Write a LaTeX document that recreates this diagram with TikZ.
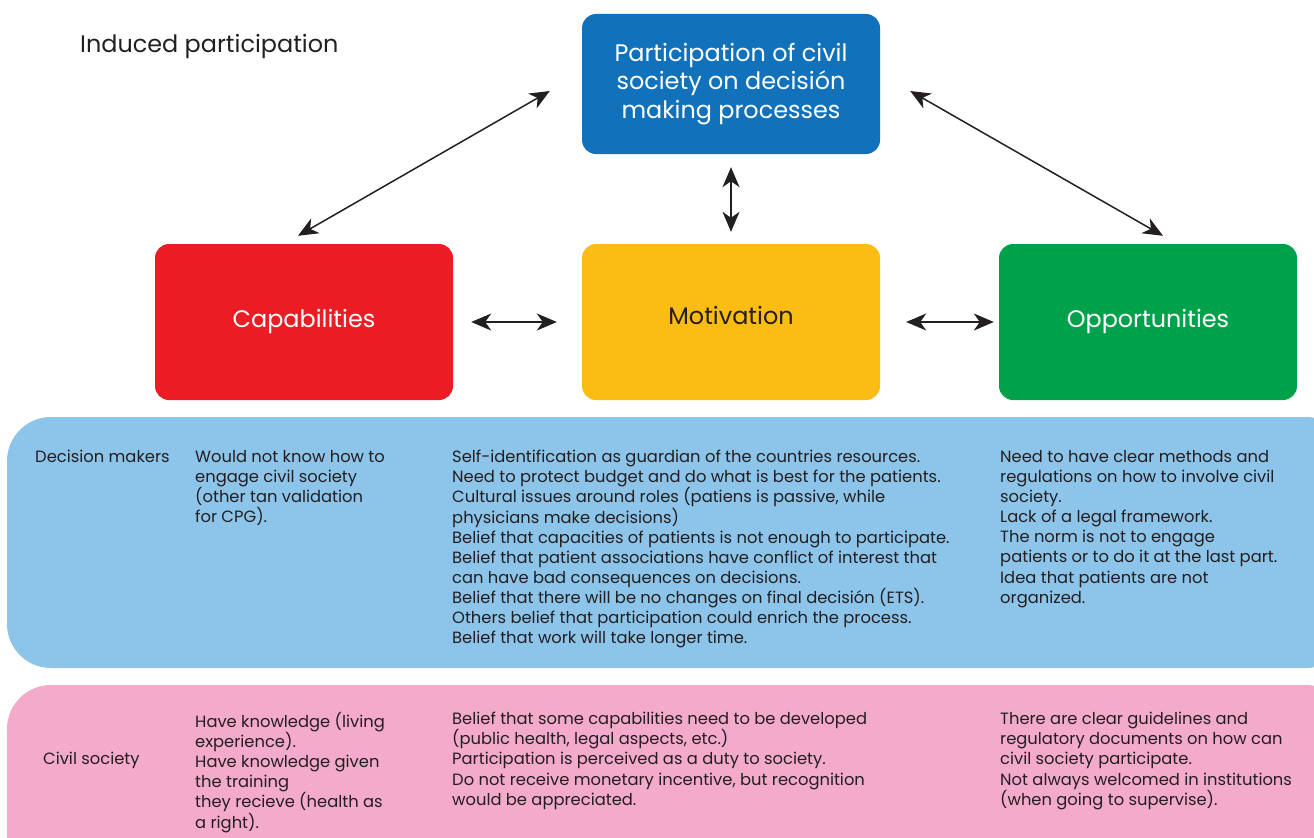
\documentclass[tikz,border=0pt]{standalone}
\usepackage{fontspec}
\setmainfont{Poppins}
\usetikzlibrary{arrows.meta,calc}
\definecolor{cblue}{RGB}{17,114,187}
\definecolor{cred}{RGB}{236,28,36}
\definecolor{cyel}{RGB}{251,188,19}
\definecolor{cgreen}{RGB}{0,161,75}
\definecolor{pblue}{RGB}{141,196,234}
\definecolor{ppink}{RGB}{244,170,202}
\definecolor{ink}{RGB}{35,31,32}
\tikzset{
  topbox/.style={rounded corners=14bp, minimum width=298bp, inner sep=0pt, align=center, font=\fontsize{24}{29}\selectfont},
  txt/.style={inner sep=0pt, align=left, text=ink, font=\fontsize{16.4}{20.2}\selectfont, anchor=north west},
  dbl/.style={{Stealth[length=20bp,width=17bp,inset=6bp]}-{Stealth[length=20bp,width=17bp,inset=6bp]}, line width=1.8bp, draw=ink},
  panel/.style={rounded corners=44bp}
}
\begin{document}
\begin{tikzpicture}[x=1bp,y=-1bp]
\useasboundingbox (0,0) rectangle (1314,837);
\clip (0,0) rectangle (1314,837);
% panels
\fill[pblue, panel] (7,417) rectangle (1350,668);
\fill[ppink, panel] (7,685) rectangle (1350,900);
% title
\node[anchor=west, inner sep=0pt, text=ink, font=\fontsize{24}{28}\selectfont] (title) at (80,47) {Induced participation};
% top boxes
\node[topbox, fill=cblue, text=white, minimum height=140bp] (part) at (731,84) {Participation of civil\\society on decisión\\making processes};
\node[topbox, fill=cred, text=white, minimum height=156bp] (cap) at (304,322) {Capabilities};
\node[topbox, fill=cyel, text=ink, minimum height=156bp, text depth=14bp] (mot) at (731,322) {Motivation};
\node[topbox, fill=cgreen, text=white, minimum height=156bp] (opp) at (1148,322) {Opportunities};
% connectors
\coordinate (d1a) at ($(part.west)+(-32,7)$);
\coordinate (d1b) at ($(cap.north)+(-6,-8)$);
\coordinate (d2a) at ($(part.east)+(30,7)$);
\coordinate (d2b) at ($(opp.north)+(15,-8)$);
\draw[dbl, line width=1.5bp] (d1a) -- (d1b);
\draw[dbl, line width=1.5bp] (d2a) -- (d2b);
\draw[dbl, shorten <=13bp, shorten >=12bp] (part.south) -- (mot.north);
\draw[dbl, shorten <=18bp, shorten >=25bp] (cap.east) -- (mot.west);
\draw[dbl, shorten <=26bp, shorten >=5bp] (mot.east) -- (opp.west);
% decision makers
\node[txt] (dmlab) at (35,450) {Decision makers};
\node[txt] (dmcap) at (195,450) {Would not know how to\\engage civil society\\(other tan validation\\for CPG).};
\node[txt] (dmmot) at (452,450) {Self-identification as guardian of the countries resources.\\Need to protect budget and do what is best for the patients.\\Cultural issues around roles (patiens is passive, while\\physicians make decisions)\\Belief that capacities of patients is not enough to participate.\\Belief that patient associations have conflict of interest that\\can have bad consequences on decisions.\\Belief that there will be no changes on final decisión (ETS).\\Others belief that participation could enrich the process.\\Belief that work will take longer time.};
\node[txt] (dmopp) at (1000,450) {Need to have clear methods and\\regulations on how to involve civil\\society.\\Lack of a legal framework.\\The norm is not to engage\\patients or to do it at the last part.\\Idea that patients are not\\organized.};
% civil society
\node[txt] (cslab) at (43,752) {Civil society};
\node[txt] (cscap) at (195,712) {Have knowledge (living\\experience).\\Have knowledge given\\the training\\they recieve (health as\\a right).};
\node[txt] (csmot) at (452,712) {Belief that some capabilities need to be developed\\(public health, legal aspects, etc.)\\Participation is perceived as a duty to society.\\Do not receive monetary incentive, but recognition\\would be appreciated.};
\node[txt] (csopp) at (1000,712) {There are clear guidelines and\\regulatory documents on how can\\civil society participate.\\Not always welcomed in institutions\\(when going to supervise).};
\end{tikzpicture}
\end{document}
